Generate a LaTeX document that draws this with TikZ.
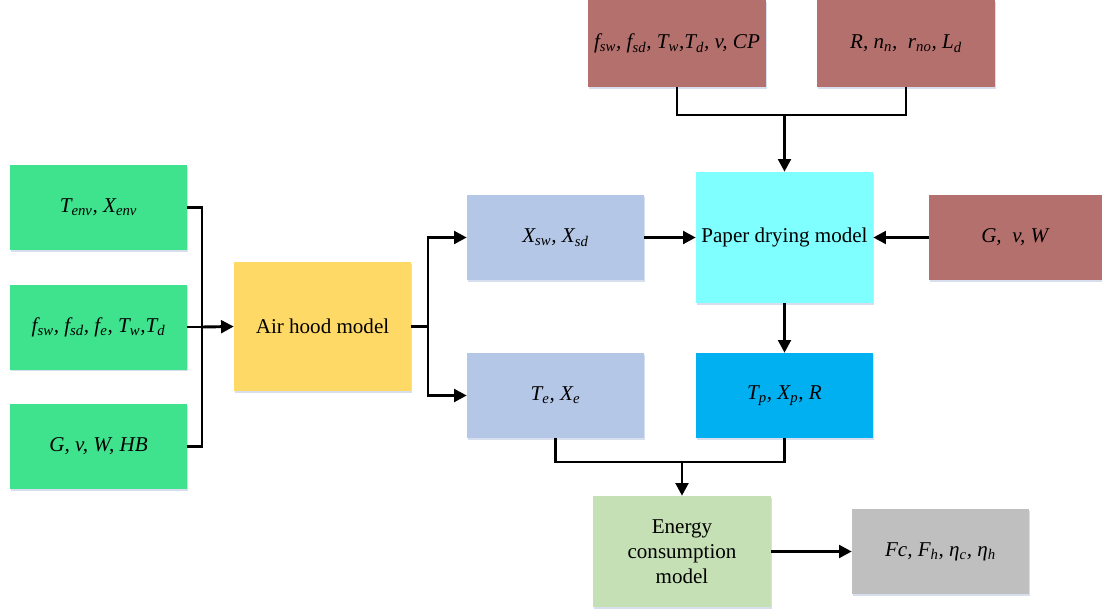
\documentclass[tikz,border=0pt]{standalone}
\usepackage{fontspec}
\setmainfont{Liberation Serif}
\usetikzlibrary{arrows.meta,shadows}
\newcommand{\sbs}[1]{\textsubscript{#1}}
\definecolor{cgreen}{RGB}{63,226,141}
\definecolor{cbrown}{RGB}{180,112,108}
\definecolor{clblue}{RGB}{180,199,231}
\definecolor{ccyan}{RGB}{127,255,255}
\definecolor{cblue}{RGB}{0,176,240}
\definecolor{cyellow}{RGB}{255,217,102}
\definecolor{clgreen}{RGB}{197,224,180}
\definecolor{cgray}{RGB}{191,191,191}
\definecolor{cshadow}{RGB}{205,215,235}
\begin{document}
\begin{tikzpicture}[x=0.75pt,y=-0.75pt,
  box/.style={rectangle, inner sep=0pt, align=center,
    minimum width=132.75pt, minimum height=63.75pt,
    font=\fontsize{15.8}{18.75}\selectfont,
    drop shadow={shadow xshift=0.6pt, shadow yshift=-1.2pt, fill=cshadow, opacity=0.8}},
  conn/.style={line width=2.2pt},
  arr/.style={line width=2.2pt, -{Triangle[length=9.5pt,width=9.5pt]}}]
\useasboundingbox (0,0) rectangle (1102,613);
% left inputs
\node[box, fill=cgreen] (env) at (98.5,207.5) {\textit{T\sbs{env}, X\sbs{env}}};
\node[box, fill=cgreen] (fsw) at (98.5,327) {\textit{f\sbs{sw}, f\sbs{sd}, f\sbs{e}, T\sbs{w},T\sbs{d}}};
\node[box, fill=cgreen] (ghb) at (98.5,446.5) {\textit{G, v, W, HB}};
% air hood
\node[box, fill=cyellow, minimum height=96.75pt] (air) at (322.5,326.5) {Air hood model};
% middle
\node[box, fill=clblue] (xsw) at (555.5,237.5) {\textit{X\sbs{sw}, X\sbs{sd}}};
\node[box, fill=clblue] (te) at (555.5,395.5) {\textit{T\sbs{e}, X\sbs{e}}};
\node[box, fill=ccyan, minimum height=98.25pt] (paper) at (784.5,237.5) {Paper drying model};
\node[box, fill=cblue] (tp) at (784.5,395.5) {\textit{T\sbs{p}, X\sbs{p}, R}};
% top
\node[box, fill=cbrown, minimum width=133.5pt, minimum height=65.25pt] (top1) at (677,43.5) {\textit{f\sbs{sw}, f\sbs{sd}, T\sbs{w},T\sbs{d}, v, CP}};
\node[box, fill=cbrown, minimum width=133.5pt, minimum height=65.25pt] (top2) at (906,43.5) {\textit{R, n\sbs{n},\ \ r\sbs{no}, L\sbs{d}}};
\node[box, fill=cbrown, minimum width=129.75pt] (gvw) at (1015.5,237.5) {\textit{G,\ \ v, W}};
% bottom
\node[box, fill=clgreen, minimum width=133.5pt, minimum height=83.25pt] (energy) at (682,551.5) {Energy\\consumption\\model};
\node[box, fill=cgray] (out) at (940.5,551.5) {\textit{Fc, F\sbs{h}, η\sbs{c}, η\sbs{h}}};
% junctions
\coordinate (jL) at (202,327);
\coordinate (jA) at (428,326.5);
\coordinate (jT) at (784.5,115);
\coordinate (jB) at (682,462);
% connectors
\draw[conn] (env.east) -| (jL);
\draw[conn] (ghb.east) -| (jL);
\draw[conn] (fsw.east) -- (jL);
\draw[arr] (jL) -- (air.west);
\draw[conn] (air.east) -- (jA);
\draw[arr] (jA) |- (xsw.west);
\draw[arr] (jA) |- (te.west);
\draw[arr] (xsw.east) -- (paper.west);
\draw[arr] (gvw.west) -- (paper.east);
\draw[arr] (paper.south) -- (tp.north);
\draw[conn] (top1.south) |- (jT);
\draw[conn] (top2.south) |- (jT);
\draw[arr] (jT) -- (paper.north);
\draw[conn] (te.south) |- (jB);
\draw[conn] (tp.south) |- (jB);
\draw[arr] (jB) -- (energy.north);
\draw[arr] (energy.east) -- (out.west);
\end{tikzpicture}
\end{document}
